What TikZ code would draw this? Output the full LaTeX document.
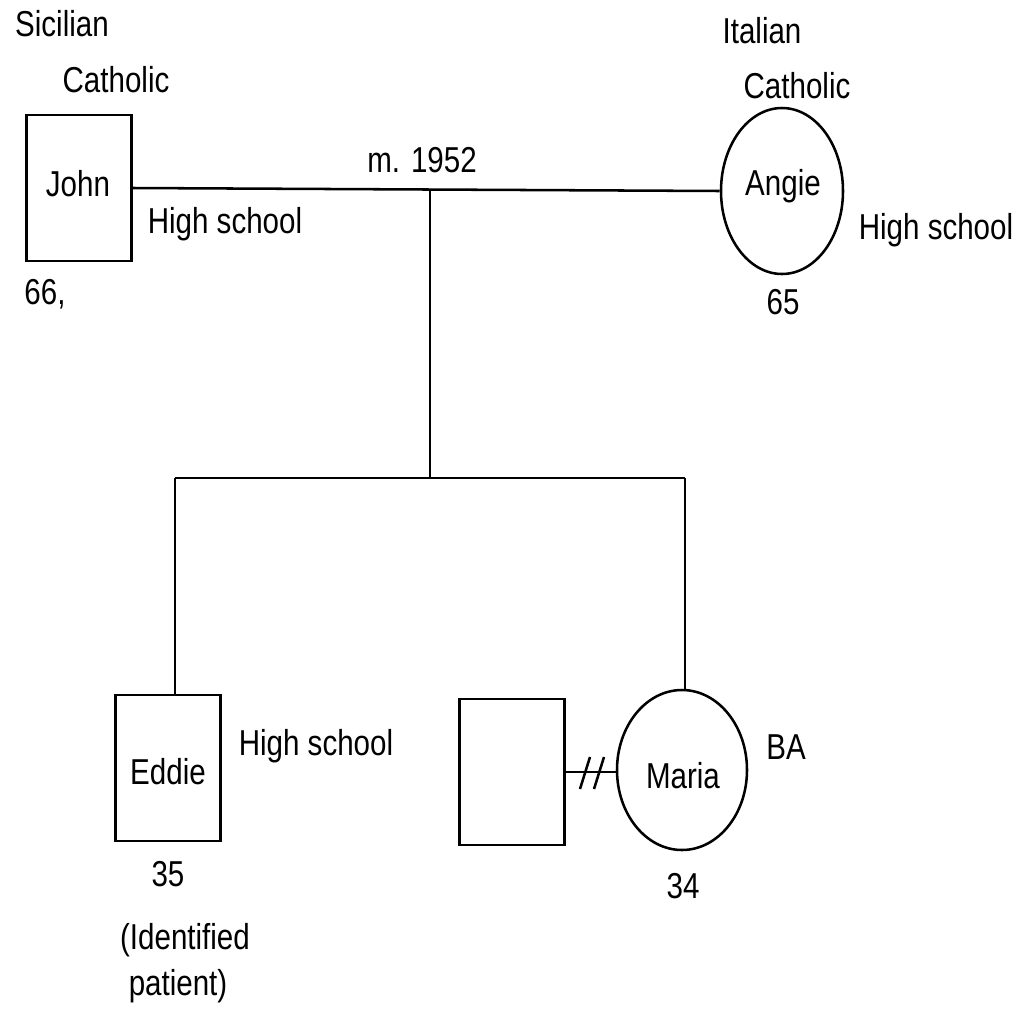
\documentclass[tikz,border=0pt]{standalone}
\usepackage{fontspec}
\setmainfont{Liberation Sans}
\usetikzlibrary{shapes.geometric,calc}
\newcommand{\stx}[1]{\scalebox{1}[1.22]{#1}}
\begin{document}
\begin{tikzpicture}[x=0.025cm,y=-0.025cm,
  every node/.style={font=\fontsize{21}{25}\selectfont, inner sep=0pt},
  male/.style={draw, line width=1.8pt, rectangle, minimum width=105*0.025cm, minimum height=146*0.025cm},
  female/.style={draw, line width=1.8pt, ellipse, minimum width=122*0.025cm, minimum height=166*0.025cm},
  rel/.style={line width=1.8pt},
  lbl/.style={anchor=center}]
\useasboundingbox (0,0) rectangle (1025,1013);
% persons
\node[male] (john) at (79,188) {};
\node[female] (angie) at (782,191) {};
\node[male] (eddie) at (168,768) {};
\node[male] (ex) at (512,772) {};
\node[female, minimum width=130*0.025cm, minimum height=160*0.025cm] (maria) at (682,770) {};
% names
\node[lbl] (johnname) at (78,184) {\stx{John}};
\node[lbl] (angiename) at (783,186) {\stx{Angie}};
\node[lbl] (eddiename) at (168,772) {\stx{Eddie}};
\node[lbl] (marianame) at (683,776) {\stx{Maria}};
% labels
\node[lbl] (sic) at (62,24) {\stx{Sicilian}};
\node[lbl] (cath1) at (116,80) {\stx{Catholic}};
\node[lbl] (hs1) at (225,224) {\stx{High school}};
\node[lbl] (age1) at (45,294) {\stx{66,}};
\node[lbl] (m1952) at (422,160) {\stx{m. 1952}};
\node[lbl] (ital) at (762,31) {\stx{Italian}};
\node[lbl] (cath2) at (797,86) {\stx{Catholic}};
\node[lbl] (hs2) at (936,230) {\stx{High school}};
\node[lbl] (age2) at (783,302) {\stx{65}};
\node[lbl] (hs3) at (316,746) {\stx{High school}};
\node[lbl] (age3) at (168,874) {\stx{35}};
\node[lbl] (ip1) at (185,940) {\stx{(Identified}};
\node[lbl] (ip2) at (178,986) {\stx{patient)}};
\node[lbl] (ba) at (786,747) {\stx{BA}};
\node[lbl] (age4) at (683,886) {\stx{34}};
% connectors
\coordinate (mid) at (430,189);
\coordinate (sib) at (430,478);
\coordinate (sibL) at (175,478);
\coordinate (sibR) at (685,478);
\draw[rel] (john.east) -- (angie.west);
\draw[rel] (mid) -- (sib);
\draw[rel] (sibL) -- (sibR);
\draw[rel] (sibL) -- (sibL |- eddie.north);
\draw[rel] (sibR) -- (sibR |- maria.north);
\draw[rel] (ex.east) -- (ex.east -| maria.west);
% divorce slashes
\coordinate (d1) at (585,773);
\coordinate (d2) at (599,773);
\draw[line width=1.8pt] ($(d1)+(-5,16)$) -- ($(d1)+(5,-16)$);
\draw[line width=1.8pt] ($(d2)+(-5,16)$) -- ($(d2)+(5,-16)$);
\end{tikzpicture}
\end{document}
